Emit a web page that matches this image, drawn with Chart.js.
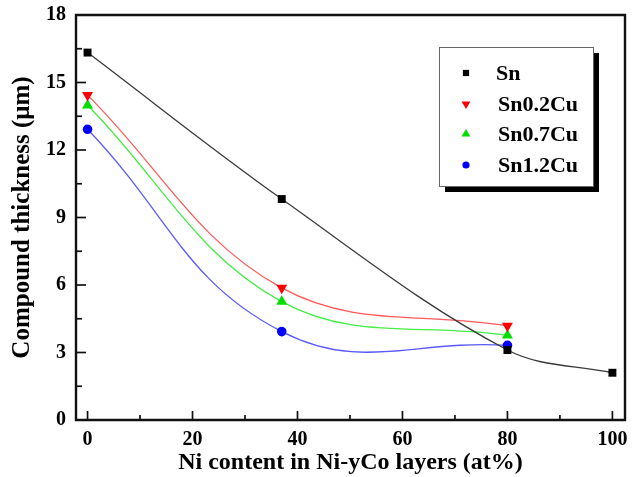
<!DOCTYPE html>
<html><head><meta charset="utf-8">
<script src="https://cdn.jsdelivr.net/npm/chart.js@4/dist/chart.umd.min.js"></script>
<style>html,body{margin:0;padding:0;background:#fff;}#wrap{width:632px;height:477px;}</style>
</head><body><div id="wrap"><canvas id="c" width="632" height="477"></canvas></div>
<script>
const xSn = [0, 37, 80, 100];
const ySn = [16.33, 9.82, 3.11, 2.10];
const xCu = [0, 37, 80];
const ySn02Cu = [14.44, 5.87, 4.18];
const ySn07Cu = [13.99, 5.26, 3.76];
const ySn12Cu = [12.92, 3.93, 3.32];
const seriesNames = ['Sn', 'Sn0.2Cu', 'Sn0.7Cu', 'Sn1.2Cu'];
const xTicks = [0, 20, 40, 60, 80, 100];
const yTicks = [0, 3, 6, 9, 12, 15, 18];

const FONT = "'Liberation Serif','Times New Roman',serif";
const pts = (xs, ys) => xs.map((x, i) => ({x: x, y: ys[i]}));

const styles = [
  {line: '#3a3a3a', pt: '#000000', style: 'rect', rot: 0, r: 5.6},
  {line: '#ff5a5a', pt: '#ff0000', style: 'triangle', rot: 180, r: 6.3},
  {line: '#44ee44', pt: '#00dd00', style: 'triangle', rot: 0, r: 6.3},
  {line: '#5a5aff', pt: '#0000ff', style: 'circle', rot: 0, r: 4.8}
];
const tensions = [0.35, 0.38, 0.38, 0.42];
const dataArr = [pts(xSn, ySn), pts(xCu, ySn02Cu), pts(xCu, ySn07Cu), pts(xCu, ySn12Cu)];

const datasets = dataArr.map((d, i) => ({
  label: seriesNames[i],
  data: d,
  borderColor: styles[i].line,
  backgroundColor: styles[i].pt,
  pointBackgroundColor: styles[i].pt,
  pointBorderColor: styles[i].pt,
  pointBorderWidth: 0,
  pointStyle: styles[i].style,
  pointRotation: styles[i].rot,
  pointRadius: styles[i].r,
  borderWidth: 1.3,
  tension: tensions[i],
  fill: false
}));

const frame = {
  id: 'frame',
  afterDatasetsDraw(chart) {
    const ctx = chart.ctx, a = chart.chartArea;
    const xs = chart.scales.x, ys = chart.scales.y;
    ctx.save();
    ctx.strokeStyle = '#111111';
    ctx.lineWidth = 1.7;
    for (let v = 0; v <= 100; v += 10) {
      const px = xs.getPixelForValue(v);
      const len = (v % 20 === 0) ? 9 : 5;
      ctx.beginPath(); ctx.moveTo(px, a.bottom); ctx.lineTo(px, a.bottom - len); ctx.stroke();
    }
    for (let k = 0; k <= 12; k++) {
      const py = ys.getPixelForValue(k * 1.5);
      const len = (k % 2 === 0) ? 10 : 6;
      ctx.beginPath(); ctx.moveTo(a.left, py); ctx.lineTo(a.left + len, py); ctx.stroke();
    }
    ctx.lineWidth = 2.4;
    ctx.beginPath();
    ctx.moveTo(a.left, a.top); ctx.lineTo(a.right, a.top); ctx.lineTo(a.right, a.bottom);
    ctx.lineTo(a.left, a.bottom); ctx.closePath();
    ctx.stroke();
    // legend
    const L = 439, T = 47, W = 154, H = 139;
    ctx.fillStyle = '#000';
    ctx.fillRect(L + 6, T + 6, W, H);
    ctx.fillStyle = '#fff';
    ctx.fillRect(L, T, W, H);
    ctx.lineWidth = 1;
    ctx.strokeStyle = '#666';
    ctx.strokeRect(L + 0.5, T + 0.5, W, H);
    const rows = [73, 104, 134, 165];
    ctx.font = "bold 22px " + FONT;
    ctx.textBaseline = 'middle';
    ctx.textAlign = 'left';
    rows.forEach((ry, i) => {
      const s = styles[i];
      ctx.fillStyle = s.pt; ctx.strokeStyle = s.pt; ctx.lineWidth = 0;
      Chart.helpers.drawPoint(ctx, {pointStyle: s.style, rotation: s.rot, radius: s.r - 1.2, borderWidth: 0}, 466, ry);
      ctx.fillStyle = '#000';
      ctx.fillText(seriesNames[i], i === 0 ? 496 : 498, ry + 1);
    });
    ctx.restore();
  }
};

new Chart(document.getElementById('c'), {
  type: 'line',
  data: {datasets: datasets},
  options: {
    responsive: false,
    animation: false,
    devicePixelRatio: 1,
    layout: {padding: {top: 15, right: 7, left: 0, bottom: 0}},
    plugins: {legend: {display: false}, tooltip: {enabled: false}},
    scales: {
      x: {
        type: 'linear', min: -2.2, max: 102.4,
        afterFit: s => { s.height = 57; s.paddingLeft = 0; s.paddingRight = 0; },
        afterBuildTicks: s => { s.ticks = xTicks.map(v => ({value: v})); },
        grid: {display: false, drawTicks: false},
        border: {display: false},
        ticks: {color: '#000', padding: 8, font: {family: FONT, size: 20, weight: 'bold'}, maxRotation: 0},
        title: {display: true, text: 'Ni content in Ni-yCo layers (at%)', color: '#000',
                font: {family: FONT, size: 24, weight: 'bold'}, padding: {top: 0, bottom: 0}}
      },
      y: {
        type: 'linear', min: 0, max: 18,
        afterFit: s => { s.width = 76; s.paddingTop = 0; s.paddingBottom = 0; },
        afterBuildTicks: s => { s.ticks = yTicks.map(v => ({value: v})); },
        grid: {display: false, drawTicks: false},
        border: {display: false},
        ticks: {color: '#000', padding: 10, font: {family: FONT, size: 20, weight: 'bold'}},
        title: {display: true, text: 'Compound thickness (μm)', color: '#000',
                font: {family: FONT, size: 25, weight: 'bold'}, padding: {top: 8, bottom: 0}}
      }
    }
  },
  plugins: [frame]
});
</script>
</body></html>
